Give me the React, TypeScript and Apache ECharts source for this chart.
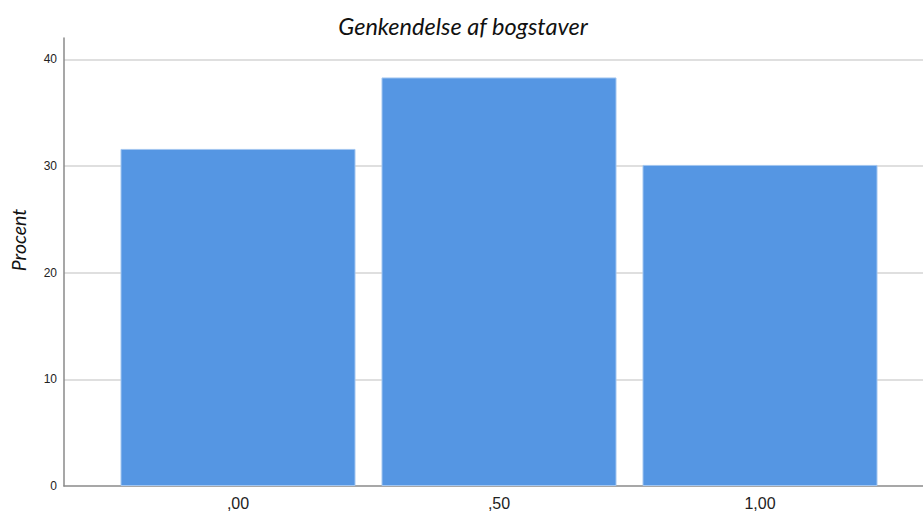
import React, { useEffect, useRef } from "react";
import * as echarts from "echarts";

const chartTitle = "Genkendelse af bogstaver";
const yAxisTitle = "Procent";
const categoryValues = [0, 0.5, 1];
const percentValues = [31.6, 38.3, 30.1];
const yTickValues = [0, 10, 20, 30, 40];

function formatCategory(v: number): string {
  const s = v.toFixed(2).replace(".", ",");
  return s.startsWith("0,") ? s.slice(1) : s;
}

export default function App() {
  const ref = useRef<HTMLDivElement>(null);
  useEffect(() => {
    if (!ref.current) return;
    const chart = echarts.init(ref.current, null, { renderer: "svg" });
    chart.setOption({
      animation: false,
      backgroundColor: "#ffffff",
      title: {
        text: chartTitle,
        left: 458,
        textAlign: "center",
        top: 9,
        textStyle: {
          fontFamily: "Lato",
          fontStyle: "italic",
          fontWeight: "normal",
          fontSize: 23.5,
          color: "#111111",
        },
      },
      graphic: [
        {
          type: "text",
          x: 18,
          y: 240,
          rotation: Math.PI / 2,
          style: {
            text: yAxisTitle,
            fontFamily: "Lato",
            fontStyle: "italic",
            fontSize: 19.5,
            fill: "#111111",
            align: "center",
            verticalAlign: "middle",
          },
        },
      ],
      grid: { left: 64, right: 0, top: 38, bottom: 25, containLabel: false },
      xAxis: {
        type: "value",
        min: -1 / 3,
        max: (923 - 238) / 522,
        axisLine: { show: true, onZero: false, lineStyle: { color: "#8a8a8a", width: 1.5 } },
        axisTick: { show: false },
        splitLine: { show: false },
        axisLabel: {
          customValues: categoryValues,
          formatter: (v: number) => formatCategory(v),
          fontFamily: "Liberation Sans",
          fontSize: 16,
          color: "#222222",
          margin: 9,
        },
      },
      yAxis: {
        type: "value",
        min: 0,
        max: 42,
        interval: 10,
        axisLine: { show: true, onZero: false, lineStyle: { color: "#8a8a8a", width: 1.5 } },
        axisTick: { show: false },
        splitLine: {
          show: true,
          showMaxLine: false,
          showMinLine: false,
          lineStyle: { color: "#d4d4d4", width: 1.5 },
        },
        axisLabel: {
          customValues: yTickValues,
          fontFamily: "Liberation Sans",
          fontSize: 12,
          color: "#222222",
          margin: 7,
        },
      },
      series: [
        {
          type: "bar",
          barWidth: 235,
          data: categoryValues.map((c, i) => [c, percentValues[i]]),
          itemStyle: {
            color: "#5596e3",
            borderColor: "#a3c6f0",
            borderWidth: 1,
          },
        },
      ],
    });
    return () => chart.dispose();
  }, []);
  return (
    <div
      ref={ref}
      style={{ position: "fixed", left: 0, top: 0, width: 923, height: 511 }}
    />
  );
}
